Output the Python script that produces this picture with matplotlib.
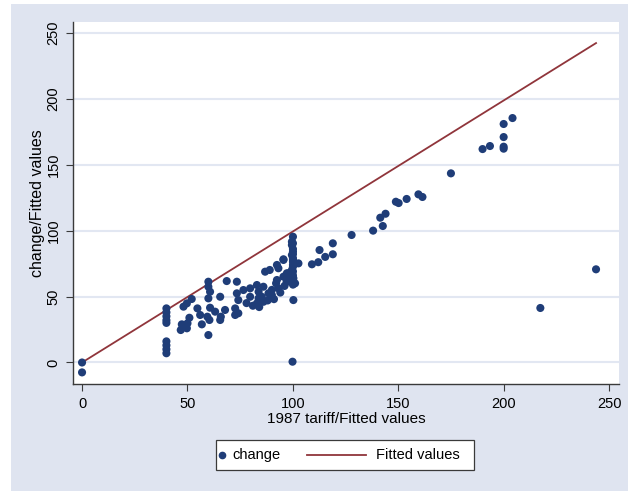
import matplotlib
matplotlib.use("Agg")
import matplotlib.pyplot as plt
from matplotlib.lines import Line2D
from matplotlib.patches import Rectangle

plt.rcParams["font.family"] = ["Liberation Sans", "DejaVu Sans"]

# 1987 tariff (x) and change (y)
tariff = [0, 0,
          40, 40, 40, 40, 40, 40, 40, 40, 40,
          46.8, 47.3, 48.1, 49.7, 49.7, 50, 50.9, 52, 54.7, 56, 56.8,
          59.9, 59.9, 60.7, 59.9, 60.7, 59.4, 60.4, 59.9, 63.1, 65.5, 65.8, 65.5, 67.8, 68.6,
          73.4, 73.4, 74.1, 72.6, 72.6, 74.1, 76.5, 79.7, 79.7, 82.9, 83.7, 83.7, 82.9, 85.2,
          86, 88.4, 90, 86.8, 89, 92.4, 93.1, 93.1, 95.5, 97.1, 99.5, 100.2, 100.2,
          92.4, 95.5, 97.9, 99.5, 100, 100, 100, 100, 101, 102.6, 99.8, 99.5, 99.5, 100, 100, 95.5,
          78, 81, 84, 86, 88, 91, 94, 96, 97, 98, 92, 90,
          100, 100, 100, 100, 100, 100, 100, 100,
          109, 112, 112.6, 115.3, 118.9, 118.9, 127.8, 138, 142.6, 141.4, 143.9, 148.8, 150.1,
          153.9, 159.5, 161.4, 174.9, 189.9, 193.4, 199.9, 199.9, 199.9, 199.9, 204.1, 217.3, 243.7]
change = [0, -7.5,
          41, 38, 35, 32, 30, 16, 13, 10, 7,
          24.6, 28.9, 42.3, 44.8, 25.9, 29.7, 33.9, 48.1, 41, 36, 28.9,
          61.2, 57.4, 53.6, 48.6, 41.5, 34.7, 32.2, 20.8, 38.5, 49.8, 34.7, 32.2, 39.8, 61.7,
          61.2, 52.4, 47.3, 41, 36, 37.3, 54.9, 56.2, 49.8, 58.7, 53.6, 48.6, 44.8, 49.8,
          57.4, 52.4, 51.1, 68.8, 70.1, 62.5, 56.2, 71.4, 65, 67.6, 70.1, 63.8, 47.3,
          73.9, 77.7, 67.6, 81.4, 90.3, 95.3, 76.4, 72.6, 60, 75.1, 0.6, 91.5, 89, 84, 79, 78.2,
          45, 43, 42, 46, 47, 48, 53, 58, 61, 64, 60, 55,
          59, 62, 66, 69, 74, 78, 82, 86,
          74.4, 76, 85.2, 80, 90.3, 82, 96.6, 99.9, 103.4, 109.7, 112.7, 121.8, 120.8,
          123.9, 127.4, 125.4, 143.3, 161.7, 164, 162, 163.5, 170.8, 180.7, 185.2, 41.3, 70.6]

# fitted line endpoints
fit_x = [0, 243.7]
fit_y = [0, 242]

navy = "#1f3d78"
maroon = "#90353b"
bg = "#dfe4f0"
W, H = 628, 491

def fx(px):
    return px / W

def fy(py):
    return 1 - py / H

fig = plt.figure(figsize=(6.28, 4.91), dpi=100, facecolor="white")
fig.patches.append(Rectangle((fx(11), 0), 1, fy(4), transform=fig.transFigure,
                             facecolor=bg, edgecolor="none", zorder=-10))

ax = fig.add_axes([0.1162, 0.2179, 0.8695, 0.7379])
ax.set_facecolor("white")

ax.scatter(tariff, change, s=34, color=navy, edgecolors="none", zorder=3)
ax.plot(fit_x, fit_y, color=maroon, lw=1.3, zorder=2)

ax.set_xlim(-4.3, 254.6)
ax.set_ylim(-16.3, 258.2)
ax.set_xticks([0, 50, 100, 150, 200, 250])
ax.set_yticks([0, 50, 100, 150, 200, 250])
ax.grid(axis="y", color="#e2e7f2", lw=1.5)
ax.set_axisbelow(True)

for s in ["top", "right"]:
    ax.spines[s].set_visible(False)
for s in ["left", "bottom"]:
    ax.spines[s].set_color("#3a3a3a")
    ax.spines[s].set_linewidth(1)

ax.tick_params(axis="both", direction="out", length=5, color="#3a3a3a", labelsize=10.5, pad=4)
plt.setp(ax.get_yticklabels(), rotation=90, va="center")

ax.set_xlabel("1987 tariff/Fitted values", fontsize=11, labelpad=1)
ax.set_ylabel("change/Fitted values", fontsize=11.5, labelpad=1)

# legend box drawn by hand (Stata style: short marker key, long line key)
fig.patches.append(Rectangle((fx(216), fy(470)), fx(474) - fx(216), fy(440) - fy(470),
                             transform=fig.transFigure, facecolor="white",
                             edgecolor="#3a3a3a", lw=0.9, zorder=5))
fig.lines.append(Line2D([fx(222)], [fy(455)], transform=fig.transFigure, marker="o",
                        color=navy, markersize=4.5, linestyle="none", zorder=6))
fig.text(fx(232), fy(455), "change", fontsize=10.5, va="center", ha="left", zorder=6)
fig.lines.append(Line2D([fx(307), fx(366)], [fy(455), fy(455)], transform=fig.transFigure,
                        color=maroon, lw=1.3, zorder=6))
fig.text(fx(376), fy(455), "Fitted values", fontsize=10.5, va="center", ha="left", zorder=6)

fig.savefig("out.png", dpi=100, facecolor=fig.get_facecolor())
